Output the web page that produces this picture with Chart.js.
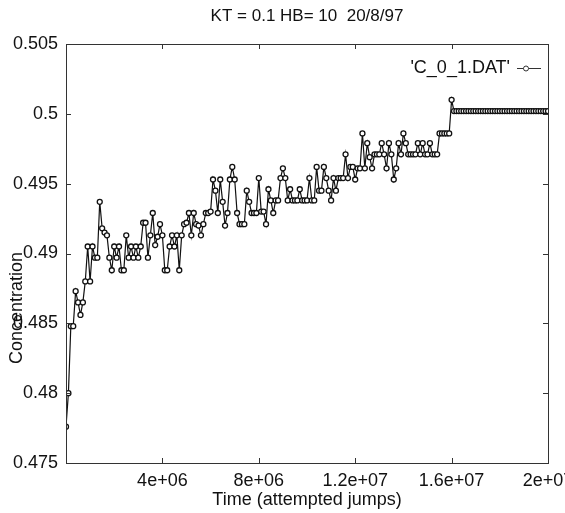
<!DOCTYPE html>
<html>
<head>
<meta charset="utf-8">
<script src="https://cdn.jsdelivr.net/npm/chart.js@4/dist/chart.umd.min.js"></script>
<style>
  html, body { margin: 0; padding: 0; background: #fff; }
</style>
</head>
<body>
<canvas id="chart" width="565" height="513"></canvas>
<script>
// sampling interval of the data file (attempted jumps)
const step = 1e5;

const concentration = [
  0.4776, 0.4800, 0.4848, 0.4848, 0.4873, 0.4865, 0.4856, 0.4865, 0.4880, 0.4905,
  0.4880, 0.4905, 0.4897, 0.4897, 0.4937, 0.4918, 0.4915, 0.4913, 0.4897, 0.4888,
  0.4905, 0.4897, 0.4905, 0.4888, 0.4888, 0.4913, 0.4897, 0.4905, 0.4897, 0.4905,
  0.4897, 0.4905, 0.4922, 0.4922, 0.4897, 0.4913, 0.4929, 0.4906, 0.4912, 0.4921,
  0.4913, 0.4888, 0.4888, 0.4905, 0.4913, 0.4905, 0.4913, 0.4888, 0.4913, 0.4921,
  0.4922, 0.4929, 0.4913, 0.4929, 0.4921, 0.4920, 0.4913, 0.4921, 0.4929, 0.4929,
  0.4930, 0.4953, 0.4945, 0.4929, 0.4953, 0.4937, 0.4920, 0.4929, 0.4953, 0.4962,
  0.4953, 0.4929, 0.4921, 0.4921, 0.4921, 0.4945, 0.4937, 0.4929, 0.4929, 0.4929,
  0.4954, 0.4930, 0.4930, 0.4921, 0.4946, 0.4938, 0.4929, 0.4938, 0.4938, 0.4954,
  0.4961, 0.4954, 0.4938, 0.4946, 0.4938, 0.4938, 0.4938, 0.4946, 0.4938, 0.4938,
  0.4938, 0.4954, 0.4938, 0.4938, 0.4962, 0.4945, 0.4945, 0.4962, 0.4954, 0.4945,
  0.4938, 0.4954, 0.4945, 0.4954, 0.4954, 0.4954, 0.4971, 0.4954, 0.4962, 0.4962,
  0.4953, 0.4961, 0.4961, 0.4986, 0.4961, 0.4979, 0.4969, 0.4961, 0.4971, 0.4971,
  0.4971, 0.4979, 0.4971, 0.4961, 0.4979, 0.4971, 0.4953, 0.4961, 0.4979, 0.4971,
  0.4986, 0.4979, 0.4971, 0.4971, 0.4971, 0.4971, 0.4979, 0.4971, 0.4979, 0.4971,
  0.4971, 0.4979, 0.4971, 0.4971, 0.4971, 0.4986, 0.4986, 0.4986, 0.4986, 0.4986,
  0.5010, 0.5002, 0.5002, 0.5002, 0.5002, 0.5002, 0.5002, 0.5002, 0.5002, 0.5002,
  0.5002, 0.5002, 0.5002, 0.5002, 0.5002, 0.5002, 0.5002, 0.5002, 0.5002, 0.5002,
  0.5002, 0.5002, 0.5002, 0.5002, 0.5002, 0.5002, 0.5002, 0.5002, 0.5002, 0.5002,
  0.5002, 0.5002, 0.5002, 0.5002, 0.5002, 0.5002, 0.5002, 0.5002, 0.5002, 0.5002,
  0.5002
];

const xTicks = [4e6, 8e6, 1.2e7, 1.6e7, 2e7];
const xTickLabels = ['4e+06', '8e+06', '1.2e+07', '1.6e+07', '2e+07'];
const yTicks = [0.475, 0.48, 0.485, 0.49, 0.495, 0.5, 0.505];
const yTickLabels = ['0.475', '0.48', '0.485', '0.49', '0.495', '0.5', '0.505'];

const chartTitle = 'KT = 0.1 HB= 10  20/8/97';
const xTitle = 'Time (attempted jumps)';
const yTitle = 'Concentration';
const seriesName = "'C_0_1.DAT'";

const FONT = '"Liberation Sans", Arial, sans-serif';
const INK = '#111';

// gnuplot style frame, ticks and labels
const gnuplotFrame = {
  id: 'gnuplotFrame',
  afterDatasetsDraw(chart) {
    const { ctx, chartArea: a, scales: { x, y } } = chart;
    ctx.save();
    ctx.strokeStyle = '#333';
    ctx.lineWidth = 1;
    ctx.strokeRect(a.left + 0.5, a.top + 0.5, a.right - a.left, a.bottom - a.top);

    ctx.beginPath();
    xTicks.forEach(v => {
      const px = Math.round(x.getPixelForValue(v)) + 0.5;
      ctx.moveTo(px, a.bottom); ctx.lineTo(px, a.bottom - 5);
      ctx.moveTo(px, a.top); ctx.lineTo(px, a.top + 5);
    });
    yTicks.forEach(v => {
      const py = Math.round(y.getPixelForValue(v)) + 0.5;
      ctx.moveTo(a.left, py); ctx.lineTo(a.left + 5, py);
      ctx.moveTo(a.right, py); ctx.lineTo(a.right - 5, py);
    });
    ctx.stroke();

    ctx.fillStyle = INK;
    ctx.font = '18px ' + FONT;
    ctx.textBaseline = 'middle';
    ctx.textAlign = 'center';
    xTicks.forEach((v, i) => {
      ctx.fillText(xTickLabels[i], x.getPixelForValue(v), a.bottom + 18);
    });
    ctx.textAlign = 'right';
    yTicks.forEach((v, i) => {
      ctx.fillText(yTickLabels[i], a.left - 8, y.getPixelForValue(v));
    });

    ctx.textAlign = 'center';
    ctx.font = '17px ' + FONT;
    ctx.fillText(chartTitle, (a.left + a.right) / 2, 16);
    ctx.font = '18px ' + FONT;
    ctx.fillText(xTitle, (a.left + a.right) / 2, a.bottom + 37);

    ctx.save();
    ctx.translate(17, 308);
    ctx.rotate(-Math.PI / 2);
    ctx.fillText(yTitle, 0, 0);
    ctx.restore();

    // key
    ctx.textAlign = 'right';
    ctx.fillText(seriesName, 510, 68);
    ctx.beginPath();
    ctx.moveTo(517, 68.5); ctx.lineTo(541, 68.5);
    ctx.stroke();
    ctx.beginPath();
    ctx.fillStyle = '#fff';
    ctx.arc(526, 68.5, 2.5, 0, Math.PI * 2);
    ctx.fill();
    ctx.stroke();
    ctx.restore();
  }
};

new Chart(document.getElementById('chart'), {
  type: 'line',
  data: {
    datasets: [{
      label: seriesName,
      data: concentration.map((c, i) => ({ x: i * step, y: c })),
      borderColor: '#111',
      borderWidth: 1.2,
      pointRadius: 2.5,
      pointBackgroundColor: '#fff',
      pointBorderColor: '#111',
      pointBorderWidth: 1.3,
      tension: 0
    }]
  },
  options: {
    responsive: false,
    animation: false,
    layout: { padding: { left: 66, right: 17, top: 44, bottom: 50 } },
    plugins: { legend: { display: false }, tooltip: { enabled: false } },
    scales: {
      x: { type: 'linear', min: 0, max: 2e7, display: false },
      y: { min: 0.475, max: 0.505, display: false }
    }
  },
  plugins: [gnuplotFrame]
});
</script>
</body>
</html>
